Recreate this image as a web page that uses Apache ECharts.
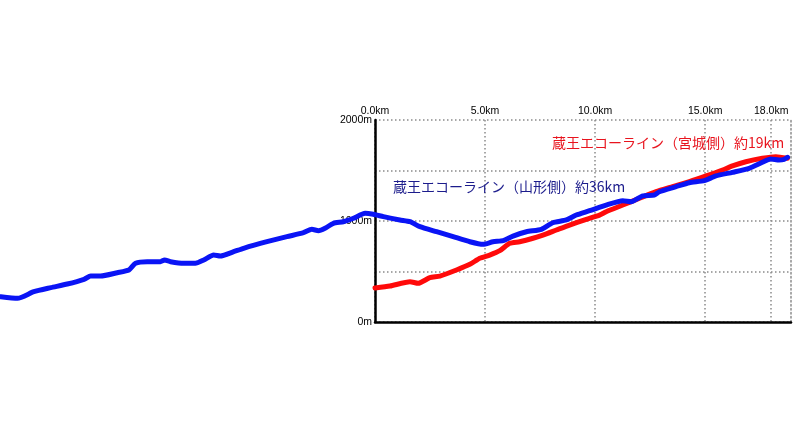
<!DOCTYPE html>
<html>
<head>
<meta charset="utf-8">
<script src="https://cdn.jsdelivr.net/npm/echarts@6/dist/echarts.min.js"></script>
<style>html,body{margin:0;padding:0;background:#fff}#c{width:800px;height:433px}</style>
</head>
<body>
<div id="c"></div>
<script>
// Distance (km) from the Miyagi-side start; Yamagata side extends to negative km
const xTicks = [0, 5, 10, 15, 18];
const yTicks = [0, 1000, 2000];
const yamagataLabel = '蔵王エコーライン（山形側）約36km';
const miyagiLabel = '蔵王エコーライン（宮城側）約19km';

const yamagataKm = [-17.0,-16.24,-15.5,-14.73,-13.98,-13.22,-12.92,-12.47,-11.71,-11.18,-10.88,-10.35,-9.75,-9.56,-9.29,-8.69,-8.16,-7.78,-7.33,-7.03,-6.42,-5.97,-4.91,-4.0,-3.25,-2.87,-2.57,-2.27,-1.89,-1.44,-0.98,-0.45,-0.08,0.38,1.13,1.59,2.04,2.8,3.55,4.31,4.91,5.36,5.82,6.27,6.88,7.56,8.08,8.69,9.14,9.75,10.5,11.26,11.64,12.16,12.69,12.92,13.68,14.28,14.96,15.49,16.24,17.0,17.6,17.98,18.36,18.59,18.74];
const yamagataAlt = [250,235,300,340,376,423,455,455,488,515,581,597,597,614,597,581,581,614,663,653,696,730,795,845,884,918,904,928,977,993,1027,1076,1066,1043,1010,993,944,894,845,795,769,795,805,851,894,918,983,1010,1059,1102,1158,1201,1191,1248,1257,1290,1340,1379,1399,1446,1482,1522,1581,1614,1604,1611,1631];

const miyagiKm = [0.0,0.68,1.59,1.96,2.49,2.95,3.7,4.31,4.76,5.21,5.67,6.12,6.57,7.18,7.63,8.24,8.84,9.6,10.2,10.5,11.26,12.02,12.77,13.52,14.28,15.04,15.79,16.24,16.85,17.6,18.21,18.74];
const miyagiAlt = [337,356,399,383,439,455,515,571,631,663,706,779,795,829,861,911,960,1017,1059,1092,1158,1225,1290,1340,1390,1446,1505,1545,1587,1621,1637,1621];

const pair = (xs, ys) => xs.map((x, i) => [x, ys[i]]);
const dotted = { color: '#8a8a8a', width: 1.5, type: [1.5, 2.5] };
const FONT = '"Noto Sans CJK JP", "Noto Sans", sans-serif';
const LFONT = 'Arial, "Liberation Sans", sans-serif';

// layout of the framed panel
const W = 800, PL = 375, PR = 9, PT = 120, PB = 111;
const X_MAX = 18.9;
// the full-width data grid shares the panel's km scale, extending it to the left edge
const X_MIN_FULL = -X_MAX * PL / (W - PL - PR);

const chart = echarts.init(document.getElementById('c'), null, { renderer: 'canvas' });
chart.setOption({
  animation: false,
  backgroundColor: '#ffffff',
  grid: [
    { left: PL, right: PR, top: PT, bottom: PB, containLabel: false },
    { left: 0, right: PR, top: PT, bottom: PB, containLabel: false }
  ],
  title: [
    { text: miyagiLabel, left: 552, top: 136, padding: 0, textStyle: { color: '#e8141e', fontSize: 14, fontWeight: 'normal', fontFamily: FONT } },
    { text: yamagataLabel, left: 393, top: 180, padding: 0, textStyle: { color: '#1c1c8c', fontSize: 14, fontWeight: 'normal', fontFamily: FONT } }
  ],
  xAxis: [
    {
      gridIndex: 0, type: 'value', position: 'top', min: 0, max: X_MAX,
      axisLine: { show: false },
      axisTick: { show: false, customValues: xTicks },
      axisLabel: { customValues: xTicks, formatter: v => v.toFixed(1) + 'km', fontSize: 10.5, color: '#000', margin: 3, fontFamily: LFONT },
      splitLine: { show: true, lineStyle: dotted }
    },
    {
      gridIndex: 0, type: 'value', position: 'bottom', min: 0, max: X_MAX,
      axisLine: { show: true, onZero: false, lineStyle: { color: '#000', width: 2.5 } },
      axisTick: { show: false }, axisLabel: { show: false }, splitLine: { show: false }
    },
    {
      gridIndex: 1, type: 'value', min: X_MIN_FULL, max: X_MAX, show: false
    }
  ],
  yAxis: [
    {
      gridIndex: 0, type: 'value', min: 0, max: 2000, interval: 500,
      axisLine: { show: true, onZero: false, lineStyle: { color: '#000', width: 2.5 } },
      axisTick: { show: false },
      axisLabel: { formatter: v => (yTicks.indexOf(v) >= 0 ? v + 'm' : ''), fontSize: 10.5, color: '#000', margin: 3, fontFamily: LFONT },
      splitLine: { show: true, lineStyle: dotted }
    },
    {
      gridIndex: 0, type: 'value', position: 'right', min: 0, max: 2000,
      axisLine: { show: true, onZero: false, lineStyle: dotted },
      axisTick: { show: false }, axisLabel: { show: false }, splitLine: { show: false }
    },
    {
      gridIndex: 1, type: 'value', min: 0, max: 2000, show: false
    }
  ],
  series: [
    {
      type: 'line', xAxisIndex: 2, yAxisIndex: 2, data: pair(miyagiKm, miyagiAlt),
      showSymbol: false, symbol: 'none', clip: false, smooth: 0.2,
      lineStyle: { color: '#ff0a0a', width: 5, cap: 'round', join: 'round' }, z: 3
    },
    {
      type: 'line', xAxisIndex: 2, yAxisIndex: 2, data: pair(yamagataKm, yamagataAlt),
      showSymbol: false, symbol: 'none', clip: false, smooth: 0.2,
      lineStyle: { color: '#0a14f5', width: 5, cap: 'round', join: 'round' }, z: 4
    }
  ]
});
</script>
</body>
</html>
